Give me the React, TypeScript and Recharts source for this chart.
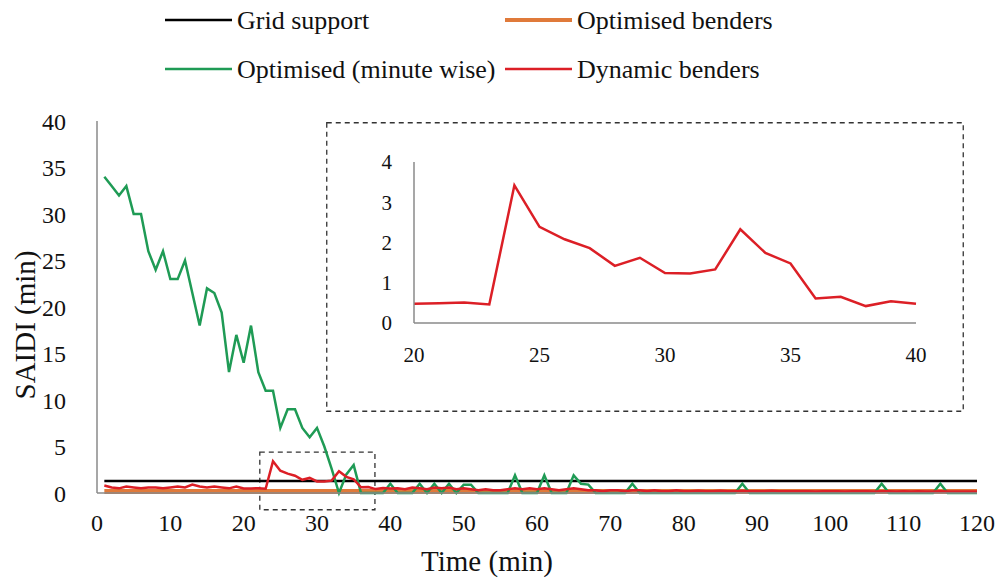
import React from 'react';
import { LineChart, Line, XAxis, YAxis, ReferenceArea, Label } from 'recharts';

// Minute index of each sample (1..120)
const minutes: number[] = [
  1, 2, 3, 4, 5, 6, 7, 8, 9, 10, 11, 12, 13, 14, 15, 16, 17, 18, 19, 20,
  21, 22, 23, 24, 25, 26, 27, 28, 29, 30, 31, 32, 33, 34, 35, 36, 37, 38, 39, 40,
  41, 42, 43, 44, 45, 46, 47, 48, 49, 50, 51, 52, 53, 54, 55, 56, 57, 58, 59, 60,
  61, 62, 63, 64, 65, 66, 67, 68, 69, 70, 71, 72, 73, 74, 75, 76, 77, 78, 79, 80,
  81, 82, 83, 84, 85, 86, 87, 88, 89, 90, 91, 92, 93, 94, 95, 96, 97, 98, 99, 100,
  101, 102, 103, 104, 105, 106, 107, 108, 109, 110, 111, 112, 113, 114, 115, 116, 117, 118, 119, 120,
];

// Grid support SAIDI level (flat over the horizon)
const gridSupportLevel = 1.3;
// Optimised benders SAIDI level (flat over the horizon)
const optimisedBendersLevel = 0.15;

// Optimised (minute wise) SAIDI per minute
const optimisedMinuteWise: number[] = [
  34, 33, 32, 33, 30, 30, 26, 24, 26, 23, 23, 25, 21.5, 18, 22, 21.5, 19.4, 13, 17, 14,
  18, 13, 11, 11, 7, 9, 9, 7, 6, 7, 5, 2.6, 0, 2, 3, 0, 0, 0, 0, 1,
  0, 0, 0, 1, 0, 1, 0, 1, 0, 0.9, 0.9, 0, 0, 0, 0, 0, 1.9, 0, 0, 0,
  1.9, 0, 0, 0, 1.9, 1, 0.9, 0, 0, 0, 0, 0, 1, 0, 0, 0, 0, 0, 0, 0,
  0, 0, 0, 0, 0, 0, 0, 1, 0, 0, 0, 0, 0, 0, 0, 0, 0, 0, 0, 0,
  0, 0, 0, 0, 0, 0, 1, 0, 0, 0, 0, 0, 0, 0, 1, 0, 0, 0, 0, 0,
];

// Dynamic benders SAIDI per minute
const dynamicBenders: number[] = [
  0.8, 0.6, 0.5, 0.7, 0.6, 0.5, 0.6, 0.6, 0.5, 0.6, 0.7, 0.6, 0.9, 0.7, 0.6, 0.7, 0.6, 0.5, 0.7, 0.48,
  0.49, 0.51, 0.46, 3.42, 2.39, 2.08, 1.86, 1.42, 1.62, 1.24, 1.23, 1.33, 2.33, 1.74, 1.48, 0.61, 0.65, 0.42, 0.54, 0.48,
  0.5, 0.4, 0.6, 0.5, 0.4, 0.6, 0.5, 0.6, 0.4, 0.5, 0.4, 0.3, 0.4, 0.3, 0.3, 0.4, 0.5, 0.4, 0.5, 0.4,
  0.5, 0.4, 0.3, 0.4, 0.5, 0.4, 0.3, 0.3, 0.2, 0.3, 0.3, 0.2, 0.3, 0.3, 0.2, 0.3, 0.2, 0.2, 0.3, 0.2,
  0.2, 0.25, 0.2, 0.2, 0.25, 0.2, 0.2, 0.25, 0.2, 0.2, 0.2, 0.25, 0.2, 0.2, 0.2, 0.2, 0.2, 0.15, 0.2, 0.2,
  0.2, 0.15, 0.2, 0.2, 0.2, 0.15, 0.2, 0.2, 0.15, 0.2, 0.15, 0.2, 0.15, 0.15, 0.2, 0.15, 0.15, 0.15, 0.15, 0.15,
];

const mainXTicks = [0, 10, 20, 30, 40, 50, 60, 70, 80, 90, 100, 110, 120];
const mainYTicks = [0, 5, 10, 15, 20, 25, 30, 35, 40];
const insetXTicks = [20, 25, 30, 35, 40];
const insetYTicks = [0, 1, 2, 3, 4];

// Zoom window shown in the inset
const zoomStart = 20;
const zoomEnd = 40;

const seriesNames = {
  grid: 'Grid support',
  bendersOpt: 'Optimised benders',
  minuteWise: 'Optimised (minute wise)',
  dynamic: 'Dynamic benders',
};

const COLORS = {
  grid: '#000000',
  bendersOpt: '#e07a3a',
  minuteWise: '#1f9b55',
  dynamic: '#dc1f26',
  axis: '#8a8a8a',
  text: '#111111',
};

const FONT = '"Liberation Serif", "Times New Roman", serif';

const rows = minutes.map((m, i) => ({
  minute: m,
  grid: gridSupportLevel,
  bendersOpt: optimisedBendersLevel,
  minuteWise: optimisedMinuteWise[i],
  dynamic: dynamicBenders[i],
}));

const insetRows = rows.filter((r) => r.minute >= zoomStart && r.minute <= zoomEnd);

const legendItems = [
  { key: 'grid', x: 165, y: 20, width: 2.5 },
  { key: 'bendersOpt', x: 505, y: 20, width: 4 },
  { key: 'minuteWise', x: 165, y: 69, width: 2.5 },
  { key: 'dynamic', x: 505, y: 69, width: 2.5 },
] as const;

function ChartLegend() {
  return (
    <svg width={1000} height={95} style={{ position: 'absolute', left: 0, top: 0 }}>
      {legendItems.map((it) => (
        <g key={it.key}>
          <line x1={it.x} x2={it.x + 67} y1={it.y} y2={it.y} stroke={COLORS[it.key]} strokeWidth={it.width} />
          <text
            x={it.x + 72}
            y={it.y}
            dominantBaseline="central"
            fontFamily={FONT}
            fontSize={26}
            fill={COLORS.text}
          >
            {seriesNames[it.key]}
          </text>
        </g>
      ))}
    </svg>
  );
}

const tickStyle = { fontFamily: FONT, fontSize: 24, fill: COLORS.text };
const insetTickStyle = { fontFamily: FONT, fontSize: 21, fill: COLORS.text };

export default function App() {
  return (
    <div style={{ position: 'absolute', left: 0, top: 0, width: 1000, height: 583, background: '#fff' }}>
      <ChartLegend />
      <div style={{ position: 'absolute', left: 0, top: 0 }}>
        <LineChart width={1000} height={583} data={rows} margin={{ top: 121, right: 23, bottom: 60, left: 0 }}>
          <XAxis
            dataKey="minute"
            type="number"
            domain={[0, 120]}
            ticks={mainXTicks}
            tickLine={false}
            tickSize={0}
            tickMargin={21}
            height={30}
            axisLine={{ stroke: COLORS.axis, strokeWidth: 1.5 }}
            tick={tickStyle}
            interval={0}
          >
            <Label
              content={({ viewBox }: any) => (
                <text
                  x={viewBox.x + viewBox.width / 2 - 50}
                  y={viewBox.y + 78}
                  textAnchor="middle"
                  fontFamily={FONT}
                  fontSize={29}
                  fill={COLORS.text}
                >
                  Time (min)
                </text>
              )}
            />
          </XAxis>
          <YAxis
            type="number"
            domain={[0, 40]}
            ticks={mainYTicks}
            width={97}
            tickLine={false}
            tickSize={0}
            tickMargin={31}
            axisLine={{ stroke: COLORS.axis, strokeWidth: 1.5 }}
            tick={tickStyle}
            interval={0}
          >
            <Label
              content={({ viewBox }: any) => {
                const cx = 25;
                const cy = viewBox.y + viewBox.height / 2 + 18;
                return (
                  <text
                    x={cx}
                    y={cy}
                    transform={`rotate(-90, ${cx}, ${cy})`}
                    textAnchor="middle"
                    dominantBaseline="central"
                    fontFamily={FONT}
                    fontSize={29}
                    fill={COLORS.text}
                  >
                    SAIDI (min)
                  </text>
                );
              }}
            />
          </YAxis>
          <Line dataKey="bendersOpt" stroke={COLORS.bendersOpt} strokeWidth={5} dot={false} isAnimationActive={false} />
          <Line dataKey="grid" stroke={COLORS.grid} strokeWidth={2.5} dot={false} isAnimationActive={false} />
          <Line dataKey="minuteWise" stroke={COLORS.minuteWise} strokeWidth={2.5} dot={false} isAnimationActive={false} />
          <Line dataKey="dynamic" stroke={COLORS.dynamic} strokeWidth={2.5} dot={false} isAnimationActive={false} />
          <ReferenceArea
            x1={22.2}
            x2={37.9}
            y1={-1.8}
            y2={4.4}
            ifOverflow="visible"
            fill="none"
            stroke="#333"
            strokeWidth={1.3}
            strokeDasharray="5 4"
          />
        </LineChart>
      </div>

      {/* Zoomed view of the dynamic benders series */}
      <div style={{ position: 'absolute', left: 326, top: 122, width: 638, height: 290, background: '#fff' }}>
        <svg width={638} height={290} style={{ position: 'absolute', left: 0, top: 0 }}>
          <rect x={0.75} y={0.75} width={636.5} height={288.5} fill="none" stroke="#333" strokeWidth={1.3} strokeDasharray="5 4" />
        </svg>
        <div style={{ position: 'absolute', left: 0, top: 0 }}>
          <LineChart width={638} height={290} data={insetRows} margin={{ top: 40, right: 48, bottom: 59, left: 0 }}>
            <XAxis
              dataKey="minute"
              type="number"
              domain={[zoomStart, zoomEnd]}
              ticks={insetXTicks}
              tickLine={false}
              tickSize={0}
              tickMargin={24}
              height={30}
              axisLine={{ stroke: COLORS.axis, strokeWidth: 1.5 }}
              tick={insetTickStyle}
              interval={0}
            />
            <YAxis
              type="number"
              domain={[0, 4]}
              ticks={insetYTicks}
              width={88}
              tickLine={false}
              tickSize={0}
              tickMargin={22}
              axisLine={{ stroke: COLORS.axis, strokeWidth: 1.5 }}
              tick={insetTickStyle}
              interval={0}
            />
            <Line dataKey="dynamic" stroke={COLORS.dynamic} strokeWidth={2.5} dot={false} isAnimationActive={false} />
          </LineChart>
        </div>
      </div>
    </div>
  );
}
